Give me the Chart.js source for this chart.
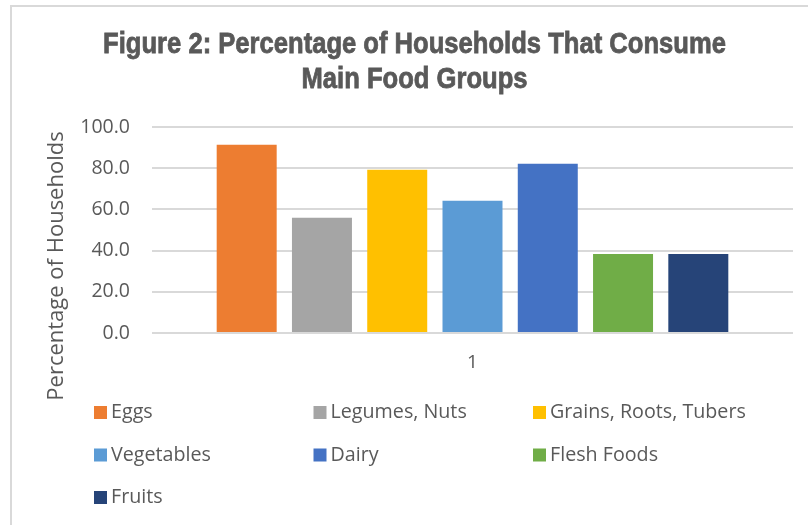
<!DOCTYPE html>
<html>
<head>
<meta charset="utf-8">
<script src="https://cdn.jsdelivr.net/npm/chart.js@4/dist/chart.umd.min.js"></script>
<style>
  html, body { margin: 0; padding: 0; background: #fff; overflow: hidden; }
  #wrap { width: 808px; height: 525px; }
</style>
</head>
<body>
<div id="wrap"><canvas id="chart" width="808" height="525"></canvas></div>
<script>
const categories = ["1"];
const groupNames = ["Eggs", "Legumes, Nuts", "Grains, Roots, Tubers", "Vegetables", "Dairy", "Flesh Foods", "Fruits"];
const groupValues = [91.4, 55.9, 79.3, 64.2, 82.2, 38.4, 38.4];
const groupColors = ["#ED7D31", "#A5A5A5", "#FFC000", "#5B9BD5", "#4472C4", "#70AD47", "#264478"];
const titleLines = ["Figure 2: Percentage of Households That Consume", "Main Food Groups"];
const yTitle = "Percentage of Households";

const textColor = "#595959";
const bodyFont = "'Open Sans', sans-serif";

// frame, narrow bold title, rotated axis title and 3-column legend like the Excel original
const extras = {
  id: "extras",
  afterDraw(chart) {
    const ctx = chart.ctx;
    ctx.save();
    ctx.strokeStyle = "#d9d9d9";
    ctx.lineWidth = 2;
    ctx.strokeRect(11, 6, 900, 600);
    ctx.restore();

    // title: no narrow font installed, so squeeze Liberation Sans Bold
    ctx.save();
    ctx.fillStyle = textColor;
    ctx.strokeStyle = textColor;
    ctx.lineWidth = 0.8;
    ctx.font = "bold 30px 'Liberation Sans', Arial, sans-serif";
    ctx.textAlign = "center";
    ctx.textBaseline = "alphabetic";
    titleLines.forEach((line, i) => {
      ctx.save();
      ctx.translate(414.5, 53 + i * 35);
      ctx.scale(0.853, 1);
      ctx.fillText(line, 0, 0);
      ctx.strokeText(line, 0, 0);
      ctx.restore();
    });
    ctx.restore();

    ctx.save();
    ctx.fillStyle = textColor;
    ctx.font = "22px " + bodyFont;
    ctx.translate(57, 266);
    ctx.rotate(-Math.PI / 2);
    ctx.textAlign = "center";
    ctx.textBaseline = "middle";
    ctx.fillText(yTitle, 0, 0);
    ctx.restore();

    ctx.save();
    ctx.font = "19.7px " + bodyFont;
    ctx.textBaseline = "middle";
    ctx.textAlign = "left";
    chart.data.datasets.forEach((ds, i) => {
      const col = i % 3;
      const row = Math.floor(i / 3);
      const x = 94 + col * 219.5;
      const y = 412.5 + row * 42.5;
      ctx.fillStyle = ds.backgroundColor;
      ctx.fillRect(x, y - 6.5, 13, 13);
      ctx.fillStyle = textColor;
      ctx.fillText(ds.label, x + 17, y);
    });
    ctx.restore();
  }
};

new Chart(document.getElementById("chart"), {
  type: "bar",
  data: {
    labels: categories,
    datasets: groupNames.map((name, i) => ({
      label: name,
      data: [groupValues[i]],
      backgroundColor: groupColors[i],
      categoryPercentage: 0.822,
      barPercentage: 0.797
    }))
  },
  options: {
    responsive: false,
    animation: false,
    layout: { padding: { left: 0, right: 15, top: 127, bottom: 0 } },
    plugins: {
      legend: { display: false },
      tooltip: { enabled: false },
      title: { display: false }
    },
    scales: {
      x: {
        grid: { display: false },
        border: { display: false },
        ticks: { color: textColor, font: { family: bodyFont, size: 19 }, padding: 10 },
        afterFit(scale) { scale.height = 192; }
      },
      y: {
        min: 0,
        max: 100,
        border: { display: false },
        grid: { color: "#d9d9d9", lineWidth: 2, drawTicks: false },
        ticks: {
          stepSize: 20,
          padding: 22,
          color: textColor,
          font: { family: bodyFont, size: 19.5 },
          callback: (v) => v.toFixed(1)
        },
        afterFit(scale) { scale.width = 152; }
      }
    }
  },
  plugins: [extras]
});
</script>
</body>
</html>
